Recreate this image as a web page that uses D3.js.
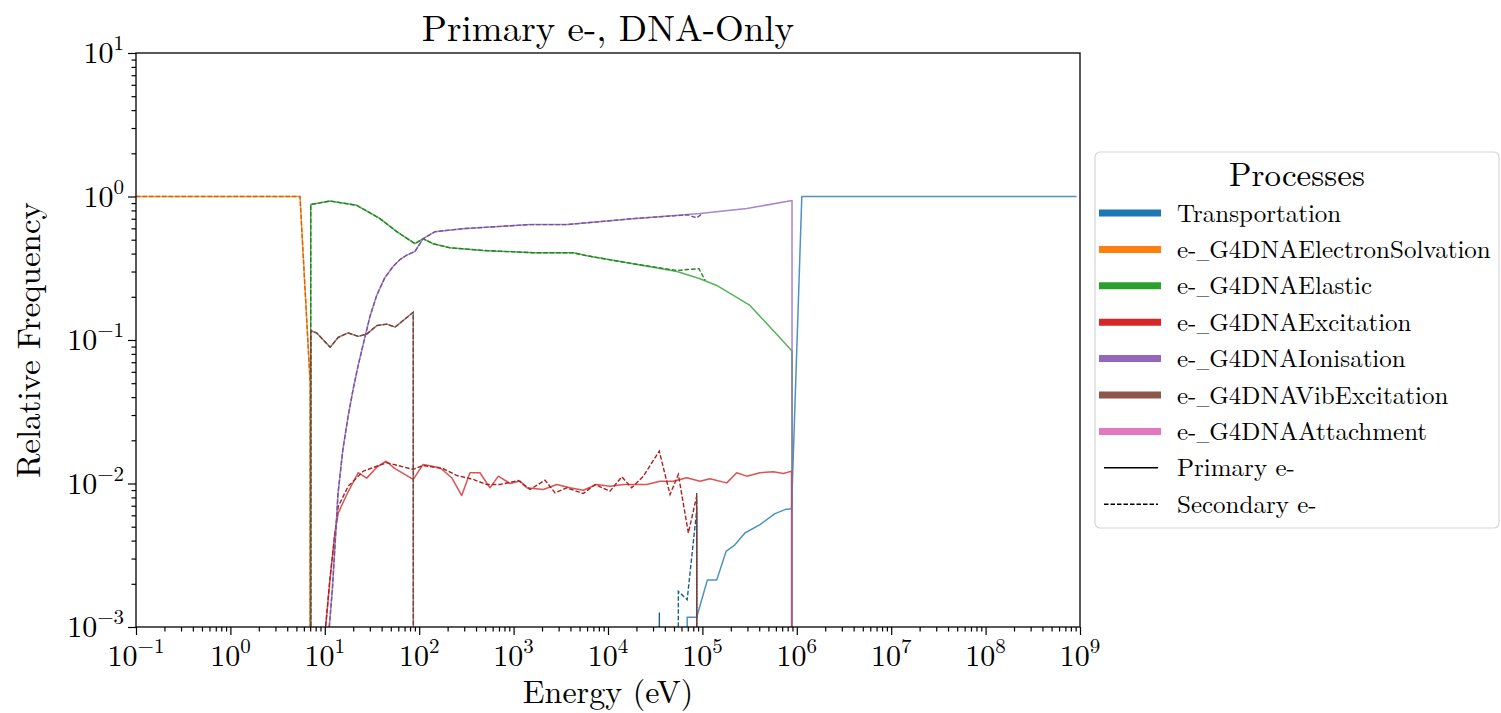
<!DOCTYPE html>
<html>
<head>
<meta charset="utf-8">
<script src="https://cdn.jsdelivr.net/npm/d3@7/dist/d3.min.js"></script>
<style>
  body { margin: 0; background: #fff; }
  svg text { fill: #000; }
</style>
</head>
<body>
<svg id="chart" width="1501" height="713"></svg>
<script>
// energies in eV, values = relative frequency (0 means no counts -> clipped on log axis)
const transE = [55000, 69000, 87000, 113000, 142000, 178000, 221000, 282000, 407000, 587000, 750000, 880000, 1130000, 920000000];
const transPrim = [0, 0.00117, 0.00117, 0.00213, 0.00213, 0.00336, 0.00374, 0.00452, 0.00517, 0.00617, 0.00658, 0.00668, 1.0, 1.0];
const transSecE = [28000, 35000, 44000, 55600, 69000, 87000, 110000];
const transSec = [0, 0.00126, 0, 0.00177, 0.00155, 0.0065, 0];

const solvE = [0.1, 1, 5.46, 7.0, 7.1];
const solvPrim = [1, 1, 1, 0.05, 0];
const solvSec = [1, 1, 1, 0.05, 0];

const elasticE = [5.46, 7.1, 11.35, 21.7, 38.4, 57.8, 90.2, 110, 140, 212, 474, 1607, 4260, 6000, 18400, 53800, 94400, 142000, 319000, 520000, 890000, 1130000];
const elasticPrim = [0, 0.88, 0.93, 0.869, 0.701, 0.569, 0.469, 0.508, 0.469, 0.439, 0.421, 0.406, 0.406, 0.386, 0.340, 0.300, 0.267, 0.240, 0.174, 0.123, 0.0838, 0];
const elasticSecE = [5.46, 7.1, 11.35, 21.7, 38.4, 57.8, 90.2, 110, 140, 212, 474, 1607, 4260, 6000, 18400, 53800, 70000, 92000, 107000];
const elasticSec = [0, 0.88, 0.93, 0.869, 0.701, 0.569, 0.469, 0.508, 0.469, 0.439, 0.421, 0.406, 0.406, 0.386, 0.340, 0.305, 0.31, 0.314, 0.26];

const excE = [9.0, 10.2, 11.35, 12.8, 13.9, 17.1, 22.6, 27.8, 35.5, 44.5, 55.4, 86.5, 110, 166, 221, 282, 345, 440, 562, 689, 916, 1169, 1377, 2065, 2864, 3955, 5470, 7586, 10500, 14500, 25700, 35600, 49200, 68200, 94400, 120000, 181000, 231000, 295000, 407000, 564000, 720000, 880000, 1130000];
const excPrim = [0, 0.001, 0.00213, 0.00452, 0.00624, 0.00838, 0.01189, 0.0109, 0.0130, 0.0143, 0.0127, 0.01067, 0.01358, 0.01288, 0.01097, 0.00824, 0.01189, 0.01189, 0.00933, 0.01125, 0.0100, 0.0104, 0.00933, 0.00908, 0.00984, 0.00933, 0.00898, 0.00984, 0.00957, 0.00984, 0.00984, 0.01038, 0.01038, 0.01097, 0.01038, 0.0108, 0.0101, 0.01189, 0.01125, 0.01189, 0.01208, 0.01175, 0.0122, 0];
const excSecE = [9.0, 10.2, 11.35, 12.8, 13.9, 17.7, 25.6, 45.3, 86.5, 110, 180, 249, 374, 519, 718, 1122, 1492, 2153, 2748, 3655, 5470, 7278, 10500, 14000, 17800, 23700, 34900, 45400, 55600, 71000, 87000, 110000];
const excSec = [0, 0.001, 0.0022, 0.0045, 0.00694, 0.00957, 0.0122, 0.01396, 0.01253, 0.01336, 0.01267, 0.01138, 0.01067, 0.00984, 0.00984, 0.0105, 0.00908, 0.01055, 0.00861, 0.00933, 0.00851, 0.00984, 0.00884, 0.01114, 0.00933, 0.01125, 0.01683, 0.00838, 0.01156, 0.00452, 0.00815, 0];

const ionE = [11.0, 12.0, 12.8, 13.8, 15.5, 17.6, 19.9, 22.5, 25.4, 30.0, 35.5, 43.0, 52.8, 63.0, 73.8, 90.2, 110, 147, 291, 1492, 3680, 18400, 94400, 295000, 890000, 1130000];
const ionPrim = [0.0009, 0.0018, 0.0036, 0.0085, 0.017, 0.029, 0.045, 0.066, 0.092, 0.145, 0.205, 0.27, 0.325, 0.365, 0.39, 0.415, 0.508, 0.569, 0.597, 0.637, 0.637, 0.701, 0.760, 0.824, 0.937, 0];
const ionSecE = [11.0, 12.0, 12.8, 13.8, 15.5, 17.6, 19.9, 22.5, 25.4, 30.0, 35.5, 43.0, 52.8, 63.0, 73.8, 90.2, 110, 147, 291, 1492, 3680, 18400, 70000, 87000, 100000];
const ionSec = [0.0009, 0.0018, 0.0036, 0.0085, 0.017, 0.029, 0.045, 0.066, 0.092, 0.145, 0.205, 0.27, 0.325, 0.365, 0.39, 0.415, 0.508, 0.569, 0.597, 0.637, 0.637, 0.701, 0.745, 0.71, 0.76];

const vibE = [5.46, 7.1, 8.2, 11.4, 13.9, 17.7, 22.6, 27.8, 35.5, 45.3, 55.5, 86.5, 110];
const vibPrim = [0, 0.116, 0.112, 0.089, 0.1045, 0.112, 0.106, 0.110, 0.126, 0.129, 0.123, 0.156, 0];
const vibSecE = [5.46, 7.1, 8.2, 11.4, 13.9, 17.7, 22.6, 27.8, 35.5, 45.3, 55.5, 86.5, 110, 70000, 87000, 110000];
const vibSec = [0, 0.116, 0.112, 0.089, 0.1045, 0.112, 0.106, 0.110, 0.126, 0.129, 0.123, 0.156, 0, 0, 0.0086, 0];

// attachment never reaches the visible range
const attachE = [];
const attachPrim = [];
const attachSec = [];

const processNames = ["Transportation", "e-_G4DNAElectronSolvation", "e-_G4DNAElastic", "e-_G4DNAExcitation",
  "e-_G4DNAIonisation", "e-_G4DNAVibExcitation", "e-_G4DNAAttachment"];
const processColors = ["#1f77b4", "#ff7f0e", "#2ca02c", "#d62728", "#9467bd", "#8c564b", "#e377c2"];
const primaryData = [[transE, transPrim], [solvE, solvPrim], [elasticE, elasticPrim], [excE, excPrim], [ionE, ionPrim], [vibE, vibPrim], [attachE, attachPrim]];
const secondaryData = [[transSecE, transSec], [solvE, solvSec], [elasticSecE, elasticSec], [excSecE, excSec], [ionSecE, ionSec], [vibSecE, vibSec], [attachE, attachSec]];

const xDecades = [-1, 0, 1, 2, 3, 4, 5, 6, 7, 8, 9];
const yDecades = [-3, -2, -1, 0, 1];

const FONT = "'Latin Modern Roman', 'CMU Serif', 'Liberation Serif', 'DejaVu Serif', serif";
const m = { left: 136, right: 1080, top: 53, bottom: 627 };
const svg = d3.select("#chart").attr("font-family", FONT);

const x = d3.scaleLog().domain([1e-1, 1e9]).range([m.left, m.right]);
const y = d3.scaleLog().domain([1e-3, 1e1]).range([m.bottom, m.top]);

svg.append("defs").append("clipPath").attr("id", "plotArea")
  .append("rect")
  .attr("x", m.left).attr("y", m.top)
  .attr("width", m.right - m.left).attr("height", m.bottom - m.top);

// ticks
const majorX = xDecades.map(k => Math.pow(10, k));
const minorX = [];
xDecades.slice(0, -1).forEach(k => { for (let j = 2; j <= 9; j++) minorX.push(j * Math.pow(10, k)); });
const majorY = yDecades.map(k => Math.pow(10, k));
const minorY = [];
yDecades.slice(0, -1).forEach(k => { for (let j = 2; j <= 9; j++) minorY.push(j * Math.pow(10, k)); });

function tickAxis(axis, g) {
  g.call(axis);
  g.select(".domain").remove();
  g.selectAll(".tick line").attr("stroke", "#000").attr("stroke-width", 1.2);
}

tickAxis(d3.axisBottom(x).tickValues(majorX).tickSize(8).tickFormat(""),
  svg.append("g").attr("transform", `translate(0,${m.bottom})`));
tickAxis(d3.axisBottom(x).tickValues(minorX).tickSize(4.5).tickFormat(""),
  svg.append("g").attr("transform", `translate(0,${m.bottom})`));
tickAxis(d3.axisLeft(y).tickValues(majorY).tickSize(8).tickFormat(""),
  svg.append("g").attr("transform", `translate(${m.left},0)`));
tickAxis(d3.axisLeft(y).tickValues(minorY).tickSize(4.5).tickFormat(""),
  svg.append("g").attr("transform", `translate(${m.left},0)`));

function powLabel(t, k) {
  t.append("tspan").text("10");
  t.append("tspan").attr("dy", -13).attr("font-size", 21).text(k < 0 ? "\u2212" + (-k) : String(k));
}

xDecades.forEach(k => {
  const t = svg.append("text")
    .attr("x", x(Math.pow(10, k))).attr("y", 666)
    .attr("text-anchor", "middle").attr("font-size", 30);
  powLabel(t, k);
});
yDecades.forEach(k => {
  const t = svg.append("text")
    .attr("x", m.left - 12).attr("y", y(Math.pow(10, k)) + 10)
    .attr("text-anchor", "end").attr("font-size", 30);
  powLabel(t, k);
});

// lines
const line = d3.line()
  .x(d => x(d[0]))
  .y(d => y(d[1] > 0 ? d[1] : 1e-300));

const plot = svg.append("g").attr("clip-path", "url(#plotArea)");
processNames.forEach((name, i) => {
  const prim = d3.zip(primaryData[i][0], primaryData[i][1]);
  const sec = d3.zip(secondaryData[i][0], secondaryData[i][1]);
  if (prim.length) {
    plot.append("path").datum(prim)
      .attr("d", line).attr("fill", "none")
      .attr("stroke", processColors[i]).attr("stroke-opacity", 0.8)
      .attr("stroke-width", 1.5).attr("stroke-linejoin", "round");
  }
  if (sec.length) {
    plot.append("path").datum(sec)
      .attr("d", line).attr("fill", "none")
      .attr("stroke", d3.color(processColors[i]).darker(0.6))
      .attr("stroke-width", 1.4).attr("stroke-dasharray", "4.5,2");
  }
});

// frame
svg.append("rect")
  .attr("x", m.left).attr("y", m.top)
  .attr("width", m.right - m.left).attr("height", m.bottom - m.top)
  .attr("fill", "none").attr("stroke", "#000").attr("stroke-width", 1.3);

// titles
svg.append("text")
  .attr("x", (m.left + m.right) / 2).attr("y", 41)
  .attr("text-anchor", "middle").attr("font-size", 37)
  .text("Primary e-, DNA-Only");

svg.append("text")
  .attr("x", (m.left + m.right) / 2).attr("y", 703)
  .attr("text-anchor", "middle").attr("font-size", 32)
  .text("Energy (eV)");

svg.append("text")
  .attr("transform", `translate(40,${(m.top + m.bottom) / 2}) rotate(-90)`)
  .attr("text-anchor", "middle").attr("font-size", 33)
  .text("Relative Frequency");

// legend
const lg = svg.append("g");
lg.append("rect")
  .attr("x", 1095).attr("y", 152).attr("width", 404).attr("height", 376)
  .attr("rx", 5).attr("fill", "#fff").attr("stroke", "#d6d6d6").attr("stroke-width", 1.2);
lg.append("text")
  .attr("x", 1297).attr("y", 186).attr("text-anchor", "middle")
  .attr("font-size", 33)
  .text("Processes");

// the underscore is set a bit narrower, as in the original's TeX output
function legendLabel(t, name) {
  name.split("_").forEach((part, j) => {
    if (j > 0) t.append("tspan").attr("font-size", 17).text("_");
    t.append("tspan").text(part);
  });
}

const rowY = i => 213 + i * 36.4;
processNames.forEach((name, i) => {
  lg.append("line")
    .attr("x1", 1099).attr("x2", 1161).attr("y1", rowY(i)).attr("y2", rowY(i))
    .attr("stroke", processColors[i]).attr("stroke-width", 7);
  const t = lg.append("text")
    .attr("x", 1177).attr("y", rowY(i) + 8.5)
    .attr("font-size", 25);
  legendLabel(t, name);
});
const styleNames = ["Primary e-", "Secondary e-"];
const styleDash = [null, "4.5,2"];
styleNames.forEach((name, j) => {
  const i = processNames.length + j;
  lg.append("line")
    .attr("x1", 1104).attr("x2", 1158).attr("y1", rowY(i)).attr("y2", rowY(i))
    .attr("stroke", "#000").attr("stroke-width", 1.4)
    .attr("stroke-dasharray", styleDash[j]);
  lg.append("text")
    .attr("x", 1177).attr("y", rowY(i) + 8.5)
    .attr("font-size", 25)
    .text(name);
});
</script>
</body>
</html>
